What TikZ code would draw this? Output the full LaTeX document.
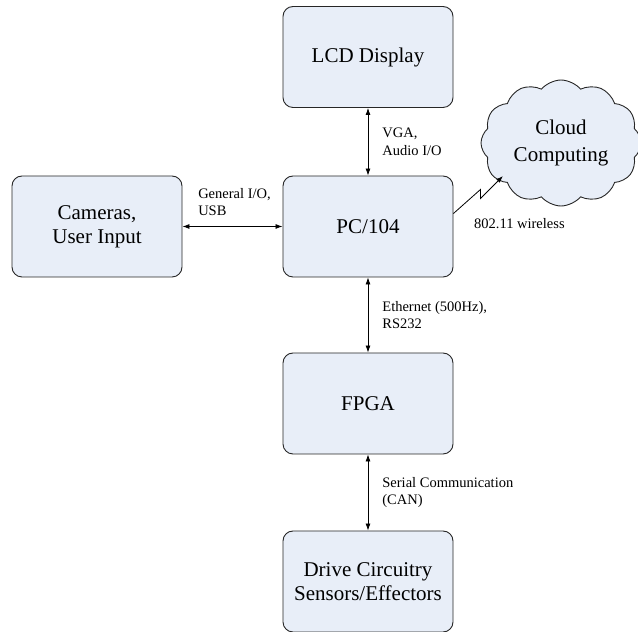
\documentclass[tikz,border=0pt]{standalone}
\usepackage{fontspec}
\setmainfont{LiberationSerif}[Extension=.ttf,UprightFont=*-Regular,BoldFont=*-Bold,ItalicFont=*-Italic]
\usepackage{tikz}
\usetikzlibrary{arrows.meta,shapes,shapes.symbols}
\usetikzlibrary{calc}
\definecolor{boxblue}{RGB}{232,238,248}
\tikzstyle{block}=[rectangle,rounded corners=10pt,draw=black!85,line width=0.9pt,fill=boxblue,minimum width=170pt,minimum height=101pt,align=center,inner sep=0pt,font=\rmfamily\fontsize{21}{24}\selectfont]
\tikzstyle{skycloud}=[cloud,cloud puffs=12,cloud puff arc=100,aspect=1.25,draw=black!85,line width=0.9pt,fill=boxblue,minimum width=160pt,minimum height=126pt,align=center,inner sep=0pt,font=\rmfamily\fontsize{21}{27}\selectfont]
\tikzstyle{edge} = [draw,line width=0.8pt,{Latex[length=7pt,width=5pt]}-{Latex[length=7pt,width=5pt]}]
\tikzstyle{wire} = [draw,line width=0.8pt,-{Latex[length=7pt,width=5pt]}]
\tikzstyle{linkname} = [align=left,inner sep=0pt,font=\rmfamily\fontsize{14.5}{17.5}\selectfont]

\begin{document}
\begin{tikzpicture}[x=1pt,y=1pt]
    \useasboundingbox (0,0) rectangle (638,632);

     \foreach \x/\y/\name/\txt in {368/575/lcd/{LCD Display}, 368/405.5/pc/{PC/104}, 97/405.5/cam/{Cameras,\\User Input}, 368/228.5/fpga/{FPGA}, 368/50.5/drive/{Drive Circuitry\\Sensors/Effectors}}
        \node[block] (\name) at (\x, \y) {\txt};

     \node[skycloud] (cloud) at (561,489) {Cloud\\Computing};

    \foreach \source/ \dest /\weight in {lcd/pc/{VGA,\\Audio I/O}, pc/fpga/{Ethernet (500Hz),\\RS232}, fpga/drive/{Serial Communication\\(CAN)}}
        \path[edge] (\source) -- node[linkname, right, xshift=14pt] {\weight} (\dest);

    \path[edge] (cam) -- node[linkname, above, xshift=2pt, yshift=10pt] {General I/O,\\USB} (pc);

    % wireless link
    \coordinate (wl) at (503,456);
    \path[wire] ($(pc.east)+(0,13)$) -- ++(27,24) -- ++(0,-9) -- (wl);
    \node[linkname, anchor=west] (wlname) at (474,408) {802.11 wireless};

   \end{tikzpicture}
\end{document}
